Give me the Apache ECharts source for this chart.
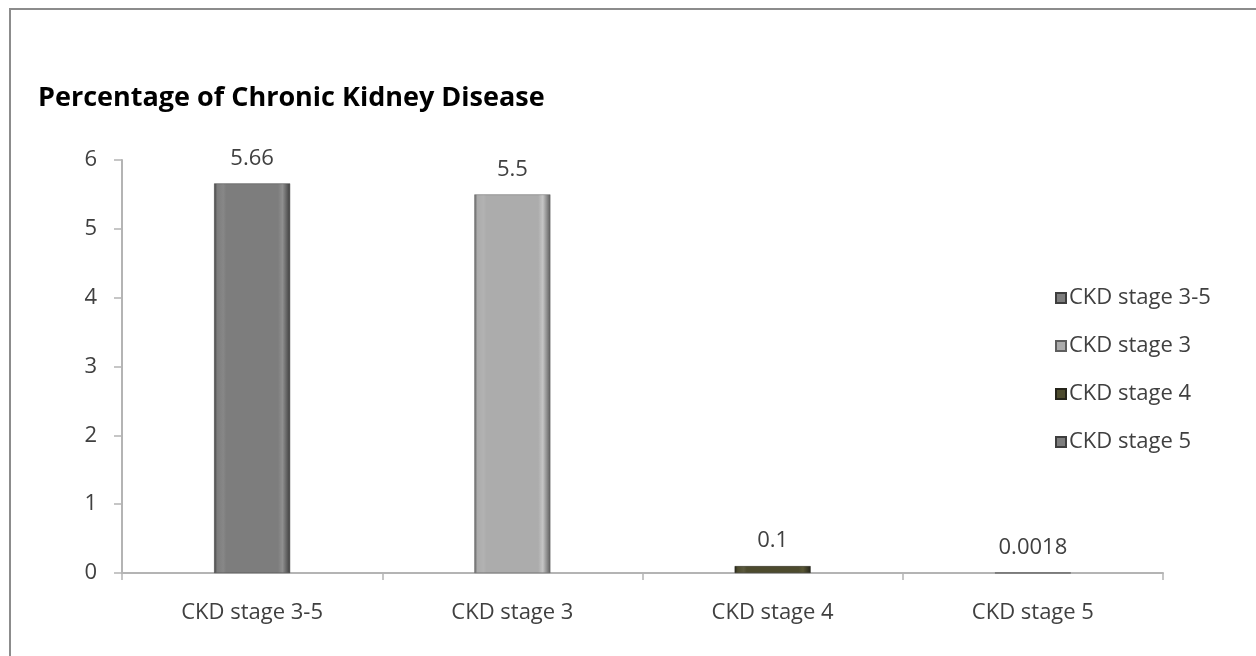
<!DOCTYPE html>
<html>
<head>
<meta charset="utf-8">
<script src="https://cdn.jsdelivr.net/npm/echarts@6/dist/echarts.min.js"></script>
<style>
  html, body { margin: 0; padding: 0; background: #fff; }
  #chart { width: 1256px; height: 656px; }
</style>
</head>
<body>
<div id="chart"></div>
<script>
// Chronic kidney disease prevalence by stage (%)
const categories = ['CKD stage 3-5', 'CKD stage 3', 'CKD stage 4', 'CKD stage 5'];
const seriesNames = ['CKD stage 3-5', 'CKD stage 3', 'CKD stage 4', 'CKD stage 5'];
const values = [5.66, 5.5, 0.1, 0.0018];
const yTicks = [0, 1, 2, 3, 4, 5, 6];

// base, edge shade for each stage
const palette = [
  ['#7d7d7d', '#3e3e3e'],
  ['#acacac', '#5e5e5e'],
  ['#4d4b2e', '#25241a'],
  ['#7d7d7d', '#3e3e3e']
];

// horizontal bevel: dark rim, lighter shoulder, flat face
function bevel(base, edge) {
  return new echarts.graphic.LinearGradient(0, 0, 1, 0, [
    { offset: 0, color: edge },
    { offset: 0.04, color: base },
    { offset: 0.12, color: echarts.color.lift(base, 0.08) },
    { offset: 0.16, color: base },
    { offset: 0.84, color: base },
    { offset: 0.9, color: echarts.color.lift(base, -0.15) },
    { offset: 1, color: edge }
  ]);
}

const FONT = '"Open Sans", sans-serif';
const TXT = '#404040';
const FS = 22;

const series = seriesNames.map((name, i) => ({
  name: name,
  type: 'bar',
  stack: 'ckd',
  barWidth: 76,
  data: categories.map((c, j) => (j === i ? values[i] : '-')),
  itemStyle: {
    color: bevel(palette[i][0], palette[i][1]),
    borderColor: palette[i][1],
    borderWidth: 0.5
  },
  label: {
    show: true,
    position: 'top',
    distance: 14,
    fontFamily: FONT,
    fontSize: FS,
    color: TXT,
    formatter: p => String(values[i])
  }
}));

const chart = echarts.init(document.getElementById('chart'), null, { renderer: 'canvas' });
chart.setOption({
  animation: false,
  backgroundColor: '#ffffff',
  graphic: [{
    type: 'rect',
    shape: { x: 10, y: 9, width: 1300, height: 700 },
    style: { fill: 'none', stroke: '#8c8c8c', lineWidth: 2 },
    z: -1
  }],
  title: {
    text: 'Percentage of Chronic Kidney Disease',
    left: 33,
    top: 80,
    textStyle: { fontFamily: FONT, fontWeight: 'bold', fontSize: 27, color: '#000' }
  },
  legend: {
    orient: 'vertical',
    left: 1050,
    top: 282,
    itemWidth: 10,
    itemHeight: 10,
    itemGap: 26,
    icon: 'rect',
    data: seriesNames.map((n, i) => ({ name: n, itemStyle: { color: palette[i][0] } })),
    textStyle: { fontFamily: FONT, fontSize: FS, color: TXT, padding: [0, 0, 0, -2] }
  },
  grid: { left: 122, right: 93, top: 160, bottom: 83, containLabel: false },
  xAxis: {
    type: 'category',
    data: categories,
    axisLine: { lineStyle: { color: '#b4b4b4', width: 2 } },
    axisTick: { show: true, length: 7, lineStyle: { color: '#b4b4b4', width: 1.5 } },
    axisLabel: { fontFamily: FONT, fontSize: FS, color: TXT, margin: 29 }
  },
  yAxis: {
    type: 'value',
    min: yTicks[0],
    max: yTicks[yTicks.length - 1],
    interval: 1,
    axisLine: { show: true, lineStyle: { color: '#b4b4b4', width: 2 } },
    axisTick: { show: true, length: 8, lineStyle: { color: '#b4b4b4', width: 1.5 } },
    splitLine: { show: false },
    axisLabel: { fontFamily: FONT, fontSize: FS, color: TXT, margin: 25 }
  },
  series: series
});
</script>
</body>
</html>
